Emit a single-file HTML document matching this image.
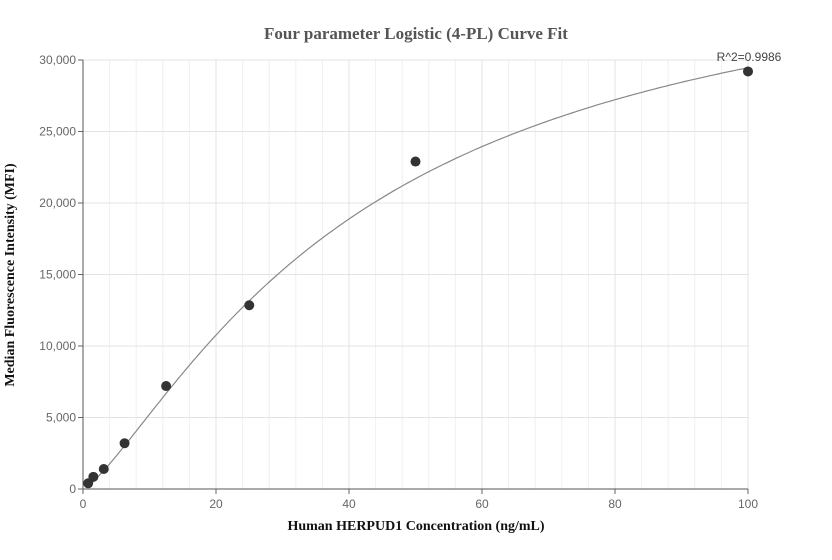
<!DOCTYPE html>
<html><head><meta charset="utf-8"><style>
body{margin:0;background:#fff;}
svg{display:block;font-family:"Liberation Sans",sans-serif;}
</style></head><body>
<svg id="c" width="832" height="560"></svg>
<script>
const xTicks=[0,20,40,60,80,100];
const yTicks=[0,5000,10000,15000,20000,25000,30000];
const yTickLabels=["0","5,000","10,000","15,000","20,000","25,000","30,000"];
const concentrations=[0.78,1.56,3.125,6.25,12.5,25,50,100];
const mfiValues=[400,850,1400,3200,7200,12850,22900,29200];
const fitParams=[0,1.3,42,39000]; // a,b,c,d
const NS="http://www.w3.org/2000/svg";
const svg=document.getElementById('c');
const L=83,R=748,T=60,B=489;
const sx=v=>L+(v-0)/100*(R-L);
const sy=v=>B-v/30000*(B-T);
function mk(tag,attrs,parent){const e=document.createElementNS(NS,tag);for(const k in attrs)e.setAttribute(k,attrs[k]);(parent||svg).appendChild(e);return e;}
// minor vertical grid
for(let v=4;v<100;v+=4){if(v%20===0)continue;
const g=mk('line',{x1:sx(v),x2:sx(v),y1:T,y2:B,stroke:'#f0f0f0','stroke-width':1});

}
xTicks.forEach(v=>{
const g=mk('line',{x1:sx(v),x2:sx(v),y1:T,y2:B,stroke:'#e3e3e3','stroke-width':1});


const t=mk('text',{x:sx(v),y:B+19,'text-anchor':'middle','font-size':12,fill:'#666'});t.textContent=v;


mk('line',{x1:sx(v),x2:sx(v),y1:B,y2:B+5,stroke:'#666'});
});
yTicks.forEach((v,i)=>{
const g=mk('line',{x1:L,x2:R,y1:sy(v),y2:sy(v),stroke:'#e3e3e3','stroke-width':1});


mk('line',{x1:L-5,x2:L,y1:sy(v),y2:sy(v),stroke:'#666'});
const t=mk('text',{x:L-7,y:sy(v)+4,'text-anchor':'end','font-size':12,fill:'#666'});t.textContent=yTickLabels[i];


});
const ya=mk('line',{x1:L,x2:L,y1:T,y2:B,stroke:'#555'});


const xa=mk('line',{x1:L,x2:R,y1:B,y2:B,stroke:'#555'});


// curve
const [a,b,c,d]=fitParams;
let p='';
for(let x=0.5;x<=100;x+=0.5){const y=d+(a-d)/(1+Math.pow(x/c,b));p+=(p?'L':'M')+sx(x).toFixed(1)+','+sy(y).toFixed(1);}
const cv=mk('path',{d:p,fill:'none',stroke:'#888','stroke-width':1.2});


concentrations.forEach((x,i)=>{
const ci=mk('circle',{cx:sx(x),cy:sy(mfiValues[i]),r:5,fill:'#333'});


});
function txt(s,attrs,name){const t=mk('text',attrs);t.textContent=s;

return t;}
txt('R^2=0.9986',{x:749,y:61,'text-anchor':'middle','font-size':12,fill:'#444'},'r-squared-label');
txt('Four parameter Logistic (4-PL) Curve Fit',{x:416,y:39,'text-anchor':'middle','font-size':17,'font-weight':'bold',fill:'#555','font-family':'Liberation Serif,serif'},'chart-title');
txt('Human HERPUD1 Concentration (ng/mL)',{x:416,y:530,'text-anchor':'middle','font-size':14,'font-weight':'bold',fill:'#111','font-family':'Liberation Serif,serif'},'x-axis-title');
txt('Median Fluorescence Intensity (MFI)',{x:0,y:0,transform:'translate(14,275) rotate(-90)','text-anchor':'middle','font-size':14,'font-weight':'bold',fill:'#111','font-family':'Liberation Serif,serif'},'y-axis-title');
</script>
</body></html>
